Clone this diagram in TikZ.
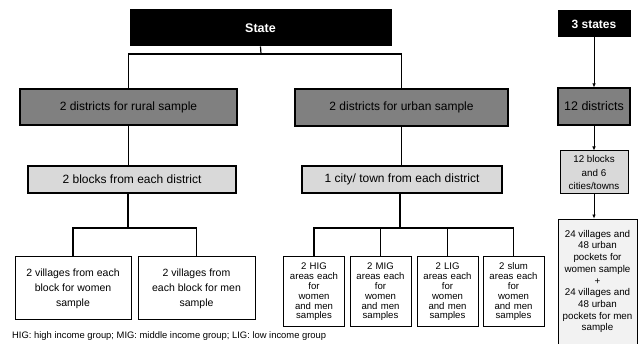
\documentclass[tikz,border=0pt]{standalone}
\usepackage{fontspec}
\setmainfont{Liberation Sans}
\usetikzlibrary{arrows.meta}
\definecolor{dgray}{RGB}{128,128,128}
\definecolor{lgray}{RGB}{217,217,217}
\definecolor{vlgray}{RGB}{242,242,242}
\begin{document}
\begin{tikzpicture}[x=1pt,y=-1pt,
  box/.style={draw=black,line width=1pt,inner sep=0pt,align=center},
  topbox/.style={box,fill=black,text=white,font=\fontsize{12.5}{14}\selectfont\bfseries},
  distbox/.style={box,fill=dgray,line width=1.4pt,font=\fontsize{12}{14}\selectfont},
  blkbox/.style={box,fill=lgray,line width=1.2pt,font=\fontsize{12}{14}\selectfont},
  leafbox/.style={box,fill=white,font=\fontsize{10.5}{15}\selectfont},
  areabox/.style={box,fill=white,font=\fontsize{9.6}{9.8}\selectfont,text width=58pt,minimum width=61pt,minimum height=70pt},
  conn/.style={line width=1.2pt},
  arr/.style={line width=0.7pt,-{Latex[length=4pt,width=3.5pt]}}]
\useasboundingbox (0,0) rectangle (642,344);
% left tree
\node[topbox,minimum width=261pt,minimum height=36pt] (state) at (260.5,28) {State};
\node[distbox,minimum width=217pt,minimum height=36pt] (rural) at (128.5,107) {2 districts for rural sample};
\node[distbox,minimum width=213pt,minimum height=37pt] (urban) at (401.5,107.5) {2 districts for urban sample};
\node[blkbox,minimum width=208pt,minimum height=27pt] (blocks) at (132,179.5) {2 blocks from each district};
\node[blkbox,minimum width=200pt,minimum height=27pt] (city) at (402,179.5) {1 city/ town from each district};
\node[leafbox,minimum width=116pt,minimum height=63pt] (v1) at (73,288.5) {2 villages from each\\block for women\\sample};
\node[leafbox,minimum width=117pt,minimum height=63pt] (v2) at (196.5,288.5) {2 villages from\\each block for men\\sample};
\node[areabox] (hig) at (314,292) {2 HIG\\areas each\\for\\women\\and men\\samples};
\node[areabox] (mig) at (380.5,292) {2 MIG\\areas each\\for\\women\\and men\\samples};
\node[areabox] (lig) at (447.5,292) {2 LIG\\areas each\\for\\women\\and men\\samples};
\node[areabox] (slum) at (513.5,292) {2 slum\\areas each\\for\\women\\and men\\samples};
\coordinate (sj) at (261,54);
\coordinate (rj) at (128,228);
\coordinate (uj) at (400,228);
\draw[conn] (state.south) -- (sj);
\draw[conn] (rural.north) |- (sj) -| (urban.north);
\draw[conn] (rural.south) -- (rural.south |- blocks.north);
\draw[conn] (urban.south) -- (urban.south |- city.north);
\draw[conn] (rj |- blocks.south) -- (rj);
\draw[conn] (v1.north) |- (rj) -| (v2.north);
\draw[conn] (uj |- city.south) -- (uj);
\draw[conn] (hig.north) |- (uj) -| (slum.north);
\draw[conn] (mig.north) -- (mig.north |- uj);
\draw[conn] (lig.north) -- (lig.north |- uj);
% right column
\node[topbox,font=\fontsize{12}{14}\selectfont\bfseries,minimum width=72pt,minimum height=26pt] (s3) at (594,24) {3 states};
\node[distbox,font=\fontsize{12.5}{14}\selectfont,line width=1.1pt,minimum width=72pt,minimum height=37pt] (d12) at (594,106.5) {12 districts};
\node[blkbox,font=\fontsize{9.8}{13.3}\selectfont,line width=1pt,minimum width=68pt,minimum height=43pt] (b12) at (594,172.5) {12 blocks\\and 6\\cities/towns};
\node[box,fill=vlgray,line width=0.8pt,font=\fontsize{9.8}{11.7}\selectfont,minimum width=79pt,minimum height=125pt] (fin) at (597.5,281.5) {24 villages and\\48 urban\\pockets for\\women sample\\+\\24 villages and\\48 urban\\pockets for men\\sample};
\draw[arr] (s3.south) -- (s3.south |- d12.north);
\draw[arr] (d12.south) -- (d12.south |- b12.north);
\draw[arr] (b12.south) -- (b12.south |- fin.north);
% footnote
\node[anchor=west,inner sep=0pt,font=\fontsize{9.4}{11}\selectfont] (note) at (12,336) {HIG: high income group; MIG: middle income group; LIG: low income group};
\end{tikzpicture}
\end{document}
